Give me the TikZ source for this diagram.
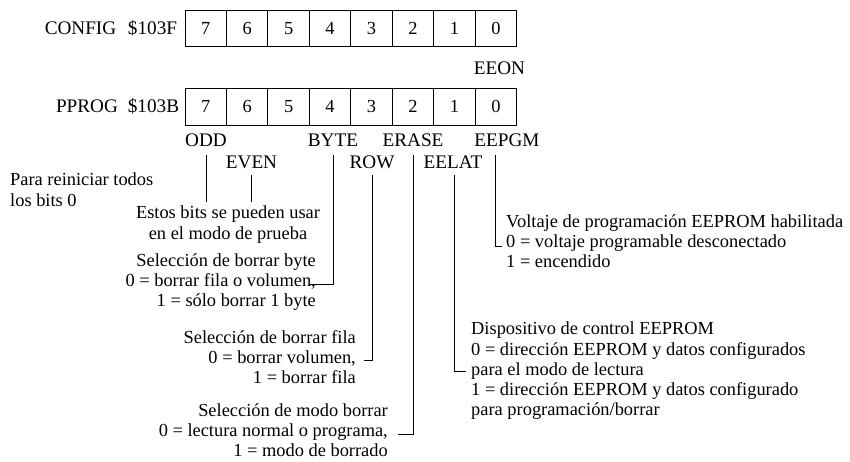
\documentclass[tikz,border=0pt]{standalone}
\usepackage{fontspec}
\setmainfont{Liberation Serif}
\begin{document}
\begin{tikzpicture}[x=1pt,y=-1pt,
  every node/.style={font=\fontsize{18.4}{20.2}\selectfont, inner sep=0pt},
  caps/.style={font=\fontsize{19.2}{21}\selectfont},
  cell/.style={draw, line width=0.9pt, minimum width=41.45pt, minimum height=36.7pt},
  conn/.style={line width=1pt}]
\useasboundingbox (0,0) rectangle (850,461);
% registers
\foreach \i/\b in {0/7,1/6,2/5,3/4,4/3,5/2,6/1,7/0} {
  \node[cell] (cf\b) at ({185+41.45*(\i+0.5)},28.35) {\b};
  \node[cell] (pp\b) at ({185+41.45*(\i+0.5)},106.65) {\b};
}
\node[caps] (config) at (80.5,28.3) {CONFIG};
\node[caps] (cfaddr) at (152.5,28.3) {\$103F};
\node[caps] (pprog) at (87,106.6) {PPROG};
\node[caps] (ppaddr) at (153.5,106.6) {\$103B};
\node[caps] (eeon) at (499.5,68.3) {EEON};
% bit labels
\node[caps] (odd) at (206,140) {ODD};
\node[caps] (byte) at (333,140) {BYTE};
\node[caps] (erase) at (413,140) {ERASE};
\node[caps] (eepgm) at (507,140) {EEPGM};
\node[caps] (even) at (251.5,162) {EVEN};
\node[caps] (row) at (372,162) {ROW};
\node[caps] (eelat) at (453,162) {EELAT};
% descriptions
\node[anchor=north west, align=left] (reset) at (10,173) {Para reiniciar todos\\los bits 0};
\node[anchor=north, align=center] (test) at (228,206) {Estos bits se pueden usar\\en el modo de prueba};
\node[anchor=north east, align=right] (bytetxt) at (316,253) {Selección de borrar byte\\0 = borrar fila o volumen,\hspace*{12pt}\\1 = sólo borrar 1 byte};
\node[anchor=north east, align=right] (rowtxt) at (356,330) {Selección de borrar fila\\0 = borrar volumen,\\1 = borrar fila};
\node[anchor=north east, align=right] (erasetxt) at (388,403) {Selección de modo borrar\\0 = lectura normal o programa,\\1 = modo de borrado};
\node[anchor=north west, align=left] (pgmtxt) at (506,214) {Voltaje de programación EEPROM habilitada\\0 = voltaje programable desconectado\\1 = encendido};
\node[anchor=north west, align=left] (lattxt) at (471,322) {Dispositivo de control EEPROM\\0 = dirección EEPROM y datos configurados\\para el modo de lectura\\1 = dirección EEPROM y datos configurado\\para programación/borrar};
% connector points
\coordinate (oddT) at (206.7,155);  \coordinate (oddB) at (206.7,202);
\coordinate (evenT) at (251.7,175); \coordinate (evenB) at (251.7,202);
\coordinate (byteT) at (333,155);   \coordinate (byteC) at (333,284);  \coordinate (byteE) at (310,284);
\coordinate (rowT) at (372.7,175);  \coordinate (rowC) at (372.7,360); \coordinate (rowE) at (364,360);
\coordinate (eraseT) at (413.3,155);\coordinate (eraseC) at (413.3,434);\coordinate (eraseE) at (398,434);
\coordinate (eelatT) at (454.3,175);\coordinate (eelatC) at (454.3,371);\coordinate (eelatE) at (466,371);
\coordinate (eepgmT) at (495,155);  \coordinate (eepgmC) at (495,246); \coordinate (eepgmE) at (502,246);
\draw[conn] (oddT) -- (oddB);
\draw[conn] (evenT) -- (evenB);
\draw[conn] (byteT) -- (byteC) -- (byteE);
\draw[conn] (rowT) -- (rowC) -- (rowE);
\draw[conn] (eraseT) -- (eraseC) -- (eraseE);
\draw[conn] (eelatT) -- (eelatC) -- (eelatE);
\draw[conn] (eepgmT) -- (eepgmC) -- (eepgmE);
\end{tikzpicture}
\end{document}
